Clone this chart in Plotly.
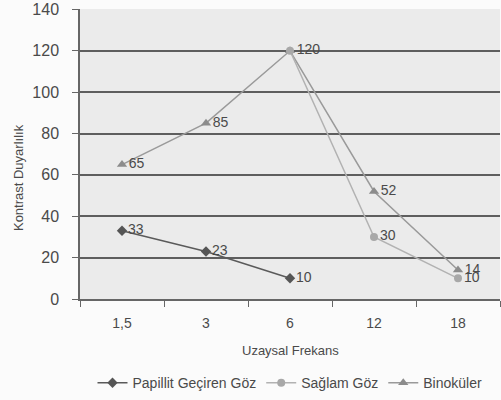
import plotly.graph_objects as go

categories = ["1,5", "3", "6", "12", "18"]
papillit = [33, 23, 10, None, None]
saglam = [None, None, 120, 30, 10]
binokuler = [65, 85, 120, 52, 14]
y_ticks = [0, 20, 40, 60, 80, 100, 120, 140]

FONT = "Liberation Sans, Arial, sans-serif"
TXT = "#4a4a4a"

def lbl(vals, skip=()):
    return ["" if (v is None or i in skip) else str(v) for i, v in enumerate(vals)]

fig = go.Figure()
fig.add_trace(go.Scatter(
    x=categories, y=binokuler, name="Binoküler", mode="lines+markers+text",
    line=dict(color="#9a9a9a", width=1.5),
    marker=dict(symbol="triangle-up", size=9, color="#8c8c8c"),
    text=lbl(binokuler), textposition="middle right",
    textfont=dict(family=FONT, size=14, color=TXT)))
fig.add_trace(go.Scatter(
    x=categories, y=saglam, name="Sağlam Göz", mode="lines+markers+text",
    line=dict(color="#b2b2b2", width=1.5),
    marker=dict(symbol="circle", size=8, color="#a8a8a8"),
    text=lbl(saglam, skip=(2,)), textposition="middle right",
    textfont=dict(family=FONT, size=14, color=TXT)))
fig.add_trace(go.Scatter(
    x=categories, y=papillit, name="Papillit Geçiren Göz", mode="lines+markers+text",
    line=dict(color="#5a5a5a", width=1.5),
    marker=dict(symbol="diamond", size=8, color="#555555"),
    text=lbl(papillit), textposition="middle right",
    textfont=dict(family=FONT, size=14, color=TXT)))

fig.update_layout(
    width=501, height=400,
    margin=dict(l=80, r=1, t=9, b=101, autoexpand=False),
    paper_bgcolor="#fbfbfb", plot_bgcolor="#ebebeb",
    font=dict(family=FONT, size=14, color=TXT),
    showlegend=True,
    legend=dict(orientation="h", x=0.5, xanchor="center", y=-0.29, yanchor="middle",
                traceorder="reversed", font=dict(size=14, color=TXT),
                bgcolor="rgba(0,0,0,0)", itemwidth=30),
    xaxis=dict(type="category", categoryorder="array", categoryarray=categories,
               showgrid=False, showline=True, linecolor="#666666", linewidth=1.5,
               ticks="outside", tickson="boundaries", ticklen=6, tickcolor="#666666",
               ticklabelstandoff=10,
               tickfont=dict(size=14, color=TXT), range=[-0.5, 4.5], automargin=False),
    yaxis=dict(range=[0, 140.2], tickvals=y_ticks, showgrid=True, gridcolor="#5e5e5e",
               gridwidth=1.5, showline=True, linecolor="#666666", linewidth=1.5,
               ticks="outside", ticklen=6, tickcolor="#666666", ticklabelstandoff=10,
               ticklabeloverflow="allow",
               tickfont=dict(size=16, color=TXT), zeroline=False, automargin=False),
    annotations=[
        dict(text="Uzaysal Frekans", xref="paper", yref="paper", x=0.5, y=-0.178,
             showarrow=False, xanchor="center", yanchor="middle",
             font=dict(size=13, color=TXT)),
        dict(text="Kontrast Duyarlılık", xref="paper", yref="paper", x=-0.148, y=0.42,
             showarrow=False, textangle=-90, xanchor="center", yanchor="middle",
             font=dict(size=13, color=TXT)),
    ],
)

fig.write_html("out.html", config={"displayModeBar": False},
               post_script="document.body.style.margin='0';")
